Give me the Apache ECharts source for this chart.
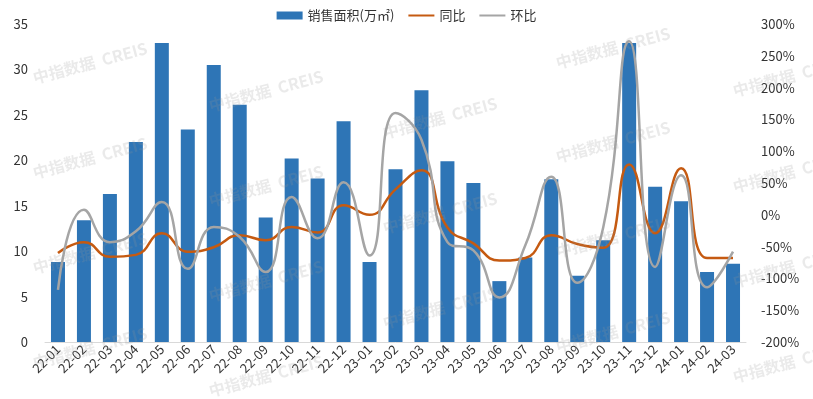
<!DOCTYPE html>
<html>
<head>
<meta charset="utf-8">
<script src="https://cdn.jsdelivr.net/npm/echarts@6/dist/echarts.min.js"></script>
<style>
  html,body{margin:0;padding:0;background:#fff;}
  #main{width:813px;height:399px;}
</style>
</head>
<body>
<div id="main"></div>
<script>
var months = ['22-01','22-02','22-03','22-04','22-05','22-06','22-07','22-08','22-09','22-10','22-11','22-12',
  '23-01','23-02','23-03','23-04','23-05','23-06','23-07','23-08','23-09','23-10','23-11','23-12',
  '24-01','24-02','24-03'];
/*销售面积(万㎡)*/
var area = [8.8,13.4,16.3,22.0,32.9,23.4,30.5,26.1,13.7,20.2,18.0,24.3,
  8.8,19.0,27.7,19.9,17.5,6.7,9.3,17.9,7.3,11.2,32.9,17.1,
  15.5,7.7,8.6];
/*同比(%)*/
var yoy = [-60,-43,-66,-63,-29,-58,-51,-32,-40,-19,-28,15,
  0,40,70,-20,-45,-72,-68,-32,-46,-52,79,-29,
  73,-68,-68];
/*环比(%)*/
var mom = [-118,8,-43,-26,20,-85,-19,-35,-90,28,-37,51,
  -64,160,118,-43,-56,-130,-48,60,-107,-20,273,-82,
  62,-114,-58];
var leftTicks = {min:0, max:35, step:5};
var rightTicks = {min:-200, max:300, step:50};

var chartPage = {
  init:function (){
    this.draw();
  },
  watermarks:function (){
    var spots = [[90,63],[90,158],[90,253],[90,348],[266,91],[266,186],[266,281],[266,376],
      [440,118],[440,213],[440,308],[613,48],[613,142],[613,237],[613,332],[790,76],[790,172],[790,267],[790,362]];
    var list = [];
    for(var i=0;i<spots.length;i++){
      list.push({
        type:'text', x:spots[i][0], y:spots[i][1], rotation:Math.PI/12, z:100,
        style:{text:'中指数据  CREIS', fill:'rgba(150,150,150,0.2)', font:'bold 16px "Noto Sans CJK SC"', align:'center', verticalAlign:'middle'}
      });
    }
    return list;
  },
  draw:function (){
    var myChart = echarts.init(document.getElementById('main'));
    var font = '"Noto Sans CJK SC", "Noto Sans", sans-serif';
    var option = {
      animation:false,
      textStyle:{fontFamily:font},
      legend:{
        top:4, left:'center', itemWidth:26, itemHeight:8, itemGap:14,
        textStyle:{fontSize:13, color:'#333'},
        data:[{name:'销售面积(万㎡)', icon:'rect'}, {name:'同比', icon:'path://M0,4 L26,4 L26,6 L0,6 Z'}, {name:'环比', icon:'path://M0,4 L26,4 L26,6 L0,6 Z'}]
      },
      grid:{left:45, right:67, top:24, bottom:57},
      xAxis:{
        type:'category', data:months,
        axisLine:{lineStyle:{color:'#d9d9d9'}},
        axisTick:{show:false},
        axisLabel:{rotate:45, fontSize:13, color:'#333', margin:5, interval:0}
      },
      yAxis:[
        {
          type:'value', min:leftTicks.min, max:leftTicks.max, interval:leftTicks.step,
          splitLine:{show:false}, axisLine:{show:false}, axisTick:{show:false},
          axisLabel:{fontSize:13, color:'#333', margin:17}
        },
        {
          type:'value', min:rightTicks.min, max:rightTicks.max, interval:rightTicks.step,
          splitLine:{show:false}, axisLine:{show:false}, axisTick:{show:false},
          axisLabel:{fontSize:13, color:'#333', margin:15, formatter:'{value}%'}
        }
      ],
      series:[
        {name:'销售面积(万㎡)', type:'bar', data:area, barWidth:14, itemStyle:{color:'#2E75B6'}},
        {name:'同比', type:'line', yAxisIndex:1, data:yoy, smooth:0.5, symbol:'none', lineStyle:{color:'#C55A11', width:2.5}, itemStyle:{color:'#C55A11'}},
        {name:'环比', type:'line', yAxisIndex:1, data:mom, smooth:0.5, symbol:'none', lineStyle:{color:'#A5A5A5', width:2.5}, itemStyle:{color:'#A5A5A5'}}
      ],
      graphic:this.watermarks()
    };
    myChart.setOption(option);
  }
};
chartPage.init();
</script>
</body>
</html>
